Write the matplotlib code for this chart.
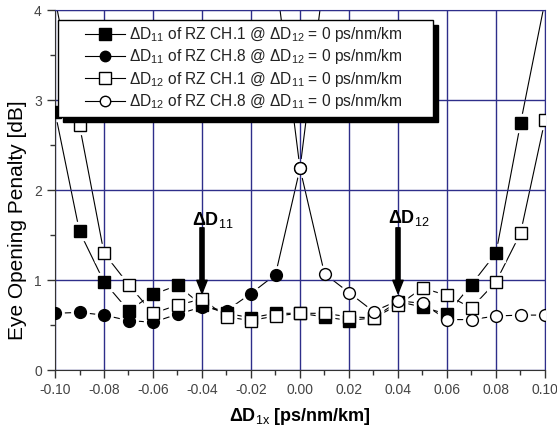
import matplotlib
matplotlib.use('Agg')
import matplotlib.pyplot as plt
import numpy as np
from matplotlib.lines import Line2D
from matplotlib.patches import Rectangle

plt.rcParams['font.family'] = ['Liberation Sans', 'DejaVu Sans']
plt.rcParams['mathtext.fontset'] = 'custom'
plt.rcParams['mathtext.rm'] = 'Liberation Sans'
plt.rcParams['mathtext.it'] = 'Liberation Sans'
plt.rcParams['mathtext.bf'] = 'Liberation Sans:bold'

# dispersion deviation [ps/nm/km]
dx = [-0.10, -0.09, -0.08, -0.07, -0.06, -0.05, -0.04, -0.03, -0.02, -0.01, 0.00,
      0.01, 0.02, 0.03, 0.04, 0.05, 0.06, 0.07, 0.08, 0.09, 0.10]

# eye opening penalty [dB]
d11_ch1 = [2.87, 1.54, 0.98, 0.66, 0.84, 0.94, 0.72, 0.63, 0.58, 0.63, 0.63,
           0.59, 0.55, 0.58, 0.76, 0.70, 0.62, 0.95, 1.30, 2.74, 4.10]
d12_ch1 = [4.13, 2.72, 1.30, 0.95, 0.63, 0.72, 0.79, 0.59, 0.55, 0.60, 0.63,
           0.63, 0.59, 0.58, 0.72, 0.91, 0.83, 0.69, 0.98, 1.52, 2.78]
# CH.8 curves leave the plot on one side
dx_d11_ch8 = dx[:12]
d11_ch8 = [0.63, 0.64, 0.61, 0.55, 0.53, 0.62, 0.70, 0.66, 0.85, 1.06, 2.24, 4.40]
dx_d12_ch8 = dx[9:]
d12_ch8 = [4.40, 2.24, 1.07, 0.86, 0.65, 0.77, 0.74, 0.56, 0.56, 0.60, 0.61, 0.61]

labels = [r'ΔD$_{11}$ of RZ CH.1 @ ΔD$_{12}$ = 0 ps/nm/km',
          r'ΔD$_{11}$ of RZ CH.8 @ ΔD$_{12}$ = 0 ps/nm/km',
          r'ΔD$_{12}$ of RZ CH.1 @ ΔD$_{11}$ = 0 ps/nm/km',
          r'ΔD$_{12}$ of RZ CH.8 @ ΔD$_{11}$ = 0 ps/nm/km']

navy = '#2e2e8a'

fig = plt.figure(figsize=(5.57, 4.36), dpi=100)
ax = fig.add_axes([55 / 557, 66 / 436, 490 / 557, 360 / 436])

series = [
    (dx, d11_ch1, 's', 'black', 9),
    (dx_d11_ch8, d11_ch8, 'o', 'black', 8.5),
    (dx, d12_ch1, 's', 'white', 9),
    (dx_d12_ch8, d12_ch8, 'o', 'white', 8.5),
]

handles = []
for i, (xs, ys, mk, fc, ms) in enumerate(series):
    ax.plot(xs, ys, '-', color='black', lw=0.8, zorder=1)
    # white halo so the connecting line stops short of each symbol
    ax.plot(xs, ys, ls='none', marker=mk, ms=ms + 4, mfc='white', mec='white', zorder=1.2)
    ax.plot(xs, ys, ls='none', marker=mk, ms=ms, mfc=fc, mec='black', mew=1.0, zorder=4 + i)
    handles.append(Line2D([], [], color='black', lw=0.8, marker=mk, ms=ms - 1,
                          mfc=fc, mec='black', mew=1.0))

ax.set_xlim(-0.10, 0.10)
ax.set_ylim(0, 4)
ax.set_xticks(np.arange(-0.10, 0.101, 0.02))
ax.set_xticks(np.arange(-0.10, 0.101, 0.01), minor=True)
ax.set_yticks([0, 1, 2, 3, 4])
ax.set_yticks(np.arange(0, 4.01, 0.5), minor=True)
ax.set_xticklabels(['%.2f' % v for v in np.arange(-0.10, 0.101, 0.02)])
ax.set_axisbelow('line')
ax.grid(True, which='major', color=navy, lw=1.0)
ax.tick_params(which='major', direction='out', length=6, width=1, colors='#333333',
               labelsize=10, labelcolor='#444444')
ax.tick_params(which='minor', direction='out', length=3.5, width=1, colors='#333333')
for side in ['left', 'bottom']:
    ax.spines[side].set_color('#333333')
for side in ['top', 'right']:
    ax.spines[side].set_color(navy)

ax.set_xlabel(r'ΔD$_{1x}$ [ps/nm/km]', fontsize=13, fontweight='bold', labelpad=6)
ax.set_ylabel('Eye Opening Penalty [dB]', fontsize=15)
ax.yaxis.set_label_coords(-0.058, 0.417)

# arrows marking the two dispersion parameters
for xa, lab, ty in [(-0.04, r'ΔD$_{11}$', 1.61), (0.04, r'ΔD$_{12}$', 1.63)]:
    ax.annotate('', xy=(xa, 0.85), xytext=(xa, 1.58),
                arrowprops=dict(facecolor='black', edgecolor='black', width=3.0,
                                headwidth=7.5, headlength=9.5, shrink=0), zorder=9)
    ax.text(xa - 0.0041, ty, lab, fontsize=13, fontweight='bold', ha='left',
            va='baseline', zorder=9)

# legend box with a solid black drop shadow
x0, x1 = 3 / 490, 378 / 490
y0, y1 = (370 - 117) / 360, (370 - 20) / 360
ax.add_patch(Rectangle((x0 + 5 / 490, y0 - 5 / 360), x1 - x0, y1 - y0, transform=ax.transAxes,
                       facecolor='black', edgecolor='black', zorder=10, clip_on=False))
ax.add_patch(Rectangle((x0, y0), x1 - x0, y1 - y0, transform=ax.transAxes,
                       facecolor='white', edgecolor='black', lw=1.0, zorder=11, clip_on=False))
leg = ax.legend(handles, labels, loc='upper left', bbox_to_anchor=(30 / 490, (370 - 25) / 360),
                frameon=False, fontsize=11.2, borderpad=0, borderaxespad=0,
                handlelength=2.6, handletextpad=0.2, labelspacing=0.22)
leg.set_zorder(12)
for t in leg.get_texts():
    t.set_color('#222222')

fig.savefig('out.png', dpi=100)
